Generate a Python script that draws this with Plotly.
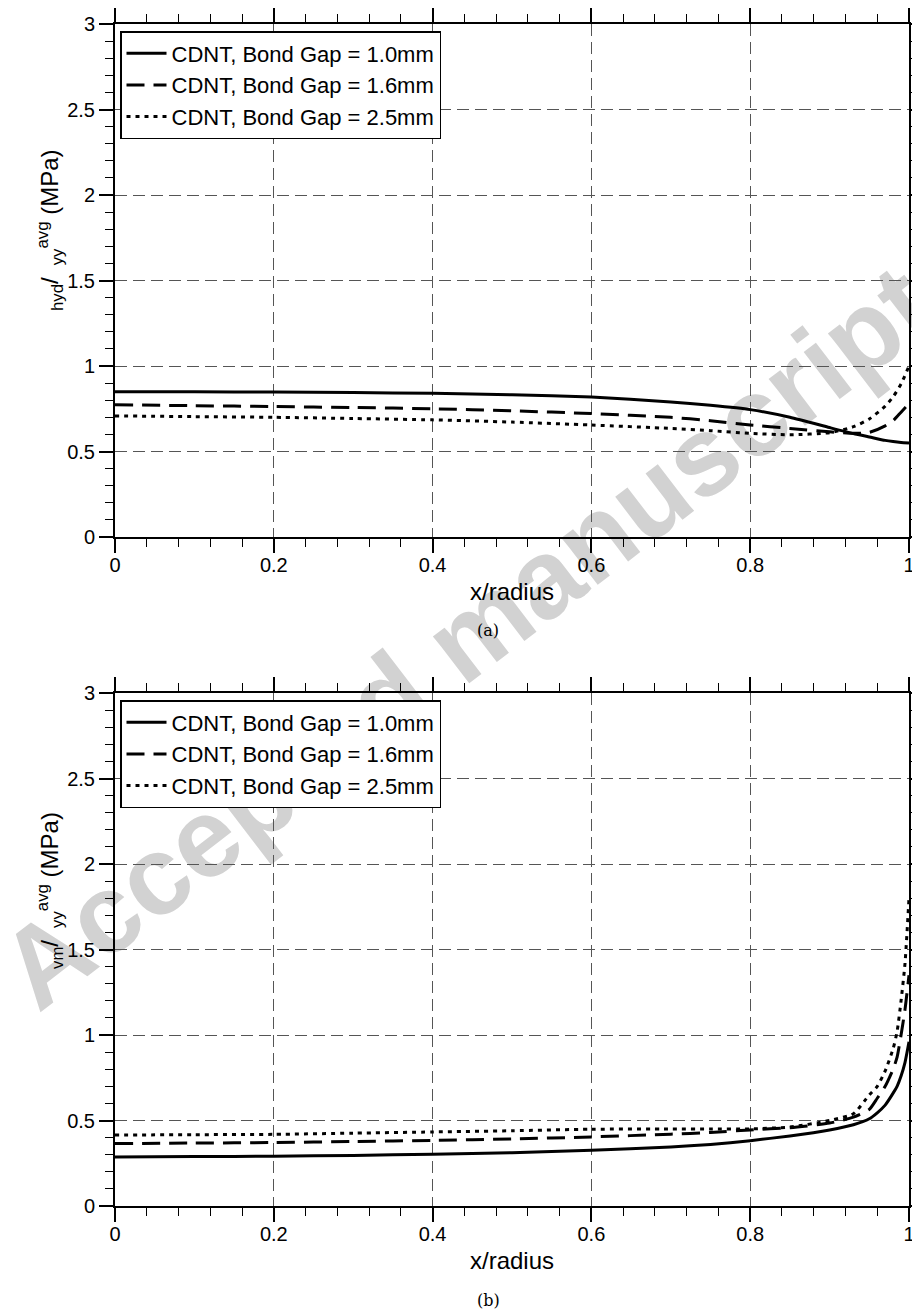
import plotly.graph_objects as go

# ---------------- data ----------------
x_top = [0, 0.1, 0.2, 0.3, 0.4, 0.5, 0.6, 0.7, 0.75, 0.8, 0.85, 0.9, 0.93, 0.95, 0.97, 0.98, 0.99, 1.0]
hyd_10 = [0.850, 0.849, 0.848, 0.845, 0.840, 0.832, 0.818, 0.790, 0.770, 0.745, 0.700, 0.640, 0.605, 0.585, 0.565, 0.558, 0.553, 0.550]
hyd_16 = [0.773, 0.768, 0.763, 0.757, 0.750, 0.738, 0.722, 0.700, 0.680, 0.655, 0.635, 0.615, 0.606, 0.612, 0.650, 0.680, 0.730, 0.780]
hyd_25 = [0.708, 0.704, 0.700, 0.693, 0.685, 0.672, 0.655, 0.635, 0.622, 0.606, 0.598, 0.610, 0.645, 0.690, 0.765, 0.820, 0.895, 1.000]

x_bot = [0, 0.1, 0.2, 0.3, 0.4, 0.5, 0.6, 0.7, 0.75, 0.8, 0.85, 0.9, 0.93, 0.95, 0.96, 0.97, 0.98, 0.985, 0.99, 0.995, 1.0]
vm_10 = [0.287, 0.289, 0.291, 0.296, 0.303, 0.312, 0.326, 0.345, 0.360, 0.382, 0.410, 0.445, 0.475, 0.510, 0.545, 0.590, 0.660, 0.700, 0.760, 0.840, 0.960]
vm_16 = [0.365, 0.368, 0.371, 0.377, 0.384, 0.392, 0.404, 0.420, 0.430, 0.445, 0.458, 0.485, 0.520, 0.565, 0.630, 0.700, 0.800, 0.870, 1.000, 1.150, 1.350]
vm_25 = [0.415, 0.417, 0.419, 0.426, 0.433, 0.440, 0.449, 0.450, 0.450, 0.451, 0.462, 0.500, 0.540, 0.650, 0.700, 0.790, 0.920, 1.020, 1.200, 1.420, 1.800]

names = ["CDNT, Bond Gap = 1.0mm", "CDNT, Bond Gap = 1.6mm", "CDNT, Bond Gap = 2.5mm"]
dashes = ["solid", "18px,9px", "4px,5px"]

x_ticks = [0, 0.2, 0.4, 0.6, 0.8, 1]
x_ticklabels = ["0", "0.2", "0.4", "0.6", "0.8", "1"]
y_ticks = [0, 0.5, 1, 1.5, 2, 2.5, 3]
y_ticklabels = ["0", "0.5", "1", "1.5", "2", "2.5", "3"]

x_title = "x/radius"
ytitle_top = "\u2002<sub>hyd</sub>/\u2002<sub>yy</sub><sup>avg</sup> (MPa)"
ytitle_bot = "\u2002<sub>vm</sub>/\u2002<sub>yy</sub><sup>avg</sup> (MPa)"
captions = ["(a)", "(b)"]
watermark = "Accepted manuscript"

FONT = "Liberation Sans, Arial, sans-serif"

# page geometry (the page body has an 8px margin)
OFF = 8
PLOT_L, PLOT_R = 115, 909
PLOT_T, PLOT_B = 24, 1206
pw = PLOT_R - PLOT_L
ph = PLOT_B - PLOT_T
FIG_W, FIG_H = 910, 1306

def px(xp):
    return (xp - PLOT_L) / pw

def py(yp):
    return (PLOT_B - yp) / ph

fig = go.Figure()

for ys, nm, ds in zip([hyd_10, hyd_16, hyd_25], names, dashes):
    fig.add_trace(go.Scatter(x=x_top, y=ys, name=nm, mode="lines",
                             line=dict(color="black", width=3, dash=ds, shape="spline", smoothing=0.6),
                             xaxis="x", yaxis="y", legend="legend"))
for ys, nm, ds in zip([vm_10, vm_16, vm_25], names, dashes):
    fig.add_trace(go.Scatter(x=x_bot, y=ys, name=nm, mode="lines",
                             line=dict(color="black", width=3, dash=ds, shape="spline", smoothing=0.6),
                             xaxis="x2", yaxis="y2", legend="legend2"))

def xax(anchor):
    return dict(
        range=[0, 1], tickvals=x_ticks, ticktext=x_ticklabels,
        ticks="outside", ticklen=14, tickwidth=1.5, tickcolor="black",
        minor=dict(dtick=0.04, ticks="outside", ticklen=8, tickwidth=1.2, tickcolor="black", showgrid=False),
        showline=True, linecolor="black", linewidth=2, mirror="allticks",
        showgrid=True, gridcolor="#555555", gridwidth=1, griddash="12px,6px",
        zeroline=False, anchor=anchor, ticklabelstandoff=-5,
        tickfont=dict(family=FONT, size=20, color="black"),
        automargin=False,
    )

def yax(domain, anchor):
    return dict(
        range=[0, 3], tickvals=y_ticks, ticktext=y_ticklabels, domain=domain,
        ticks="outside", ticklen=14, tickwidth=1.5, tickcolor="black",
        minor=dict(dtick=0.1, ticks="outside", ticklen=8, tickwidth=1.2, tickcolor="black", showgrid=False),
        showline=True, linecolor="black", linewidth=2, mirror="allticks",
        showgrid=True, gridcolor="#555555", gridwidth=1, griddash="12px,6px",
        zeroline=False, anchor=anchor,
        tickfont=dict(family=FONT, size=20, color="black"),
        automargin=False,
    )

top_dom = [py(537), 1.0]
bot_dom = [0.0, py(693)]

legend_common = dict(
    bgcolor="white", bordercolor="black", borderwidth=1.5,
    font=dict(family=FONT, size=22, color="black"),
    xanchor="left", yanchor="top", tracegroupgap=0, itemwidth=40,
)

fig.update_layout(
    width=FIG_W, height=FIG_H,
    margin=dict(l=PLOT_L - OFF, r=FIG_W - (PLOT_R - OFF), t=PLOT_T - OFF, b=FIG_H - (PLOT_B - OFF)),
    paper_bgcolor="white", plot_bgcolor="white",
    xaxis=xax("y"), yaxis=yax(top_dom, "x"),
    xaxis2=xax("y2"), yaxis2=yax(bot_dom, "x2"),
    legend=dict(x=px(120), y=py(31), **legend_common),
    legend2=dict(x=px(120), y=py(700), **legend_common),
    showlegend=True,
)

# axis titles
for yy in (591, 1261):
    fig.add_annotation(text=x_title, xref="paper", yref="paper", x=px(512), y=py(yy),
                       xanchor="center", yanchor="middle",
                       showarrow=False, font=dict(family=FONT, size=24, color="black"))
for txt, yy in ((ytitle_top, 236), (ytitle_bot, 897)):
    fig.add_annotation(text=txt, xref="paper", yref="paper", x=px(50), y=py(yy), textangle=-90,
                       xanchor="center", yanchor="middle",
                       showarrow=False, font=dict(family=FONT, size=24, color="black"))

# captions
for txt, yy in zip(captions, (630, 1300)):
    fig.add_annotation(text=txt, xref="paper", yref="paper", x=px(488), y=py(yy),
                       xanchor="center", yanchor="middle",
                       showarrow=False, font=dict(family="DejaVu Serif, serif", size=16, color="black"))

# watermark (drawn below traces)
cx, cy = px(460), py(628)
fig.add_shape(type="rect", xref="paper", yref="paper", x0=cx - 0.01, x1=cx + 0.01, y0=cy - 0.01, y1=cy + 0.01,
              line=dict(width=0), fillcolor="rgba(0,0,0,0)", layer="below",
              label=dict(text="<b>" + watermark + "</b>", textangle=-37.5, textposition="middle center",
                         font=dict(family=FONT, size=112, color="#d2d2d2")))

fig.write_html("out.html")
